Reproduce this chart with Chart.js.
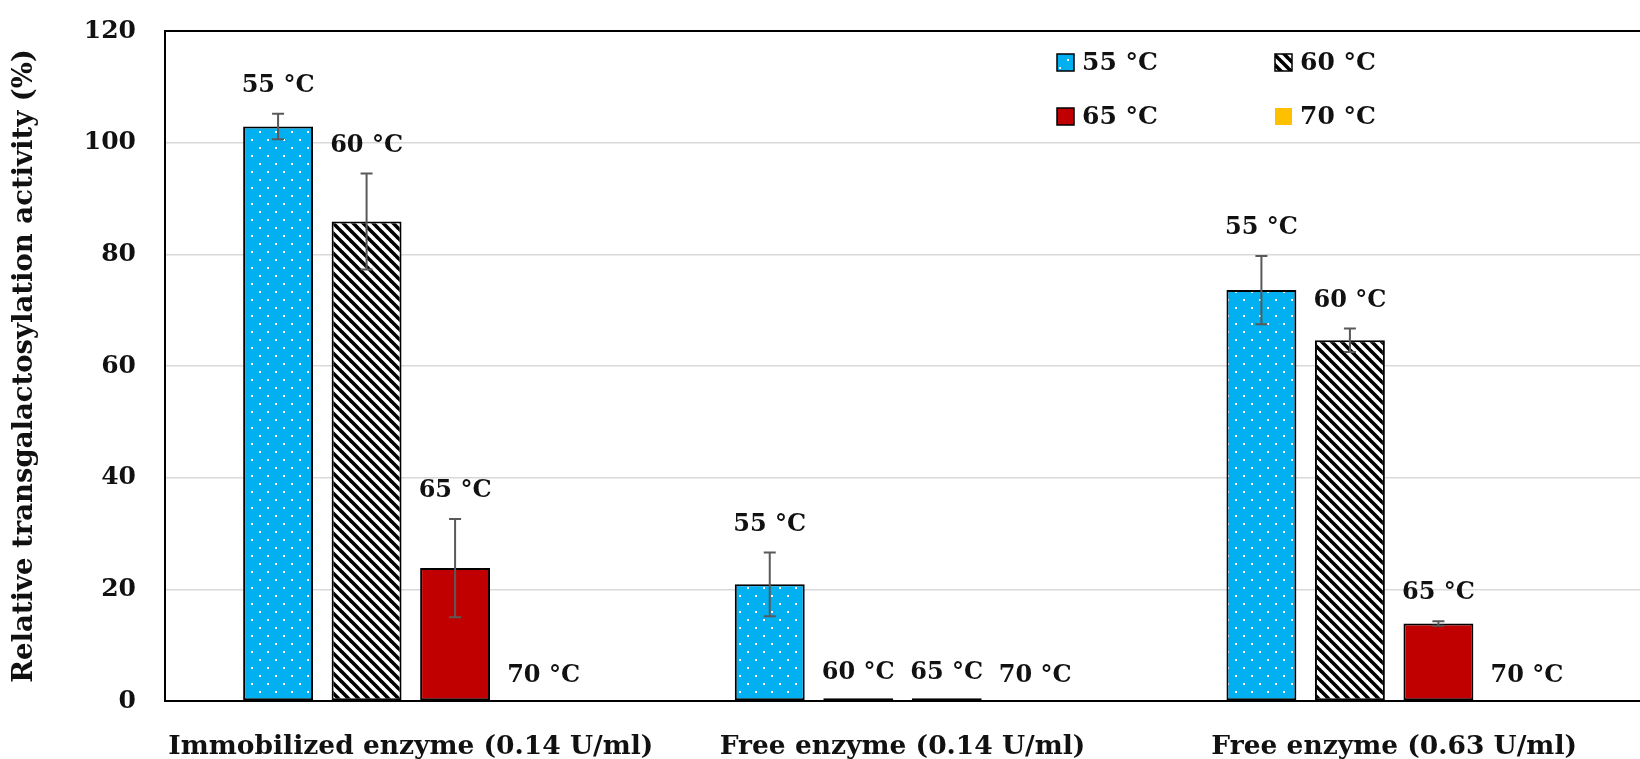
<!DOCTYPE html>
<html>
<head>
<meta charset="utf-8">
<script src="https://cdn.jsdelivr.net/npm/chart.js@4/dist/chart.umd.min.js"></script>
<style>
  body { margin: 0; background: #fff; }
  canvas { display: block; }
</style>
</head>
<body>
<canvas id="chart" width="1640" height="759"></canvas>
<script>
const categories = ["Immobilized enzyme (0.14 U/ml)", "Free enzyme (0.14 U/ml)", "Free enzyme (0.63 U/ml)"];
const seriesNames = ["55 °C", "60 °C", "65 °C", "70 °C"];

const values55 = [102.9, 20.9, 73.6];
const values60 = [85.9, 0.5, 64.6];
const values65 = [23.8, 0.5, 13.9];
const values70 = [0, 0, 0];

const errors55 = [2.3, 5.7, 6.1];
const errors60 = [8.6, 0, 2.1];
const errors65 = [8.8, 0, 0.4];
const errors70 = [0, 0, 0];

const yTicks = [0, 20, 40, 60, 80, 100, 120];

const FONT = "'DejaVu Serif'";

// fill patterns
function dotPattern() {
  const c = document.createElement("canvas");
  c.width = 16; c.height = 16;
  const g = c.getContext("2d");
  g.fillStyle = "#00b0f0";
  g.fillRect(0, 0, 16, 16);
  g.fillStyle = "#ffffff";
  g.fillRect(3, 3, 2, 2);
  g.fillRect(11, 11, 2, 2);
  return g.createPattern(c, "repeat");
}

function stripePattern() {
  const c = document.createElement("canvas");
  c.width = 10; c.height = 10;
  const g = c.getContext("2d");
  g.fillStyle = "#ffffff";
  g.fillRect(0, 0, 10, 10);
  g.strokeStyle = "#000000";
  g.lineWidth = 3.6;
  for (const k of [-10, 0, 10]) {
    g.beginPath();
    g.moveTo(k - 1, -1);
    g.lineTo(k + 11, 11);
    g.stroke();
  }
  return g.createPattern(c, "repeat");
}

const fills = [dotPattern(), stripePattern(), "#c00000", "#ffc000"];
const allValues = [values55, values60, values65, values70];
const allErrors = [errors55, errors60, errors65, errors70];

const extras = {
  id: "extras",
  afterDatasetsDraw(chart) {
    const ctx = chart.ctx;
    const y = chart.scales.y;
    const area = chart.chartArea;

    // top frame line
    ctx.save();
    ctx.strokeStyle = "#000";
    ctx.lineWidth = 2;
    ctx.beginPath();
    ctx.moveTo(area.left - 1, area.top);
    ctx.lineTo(area.right, area.top);
    ctx.stroke();

    // error bars and labels
    chart.data.datasets.forEach((ds, i) => {
      const meta = chart.getDatasetMeta(i);
      meta.data.forEach((el, j) => {
        const v = allValues[i][j];
        const e = allErrors[i][j];
        if (e > 0) {
          const yt = y.getPixelForValue(v + e);
          const yb = y.getPixelForValue(v - e);
          ctx.strokeStyle = "#595959";
          ctx.lineWidth = 2;
          ctx.beginPath();
          ctx.moveTo(el.x, yt); ctx.lineTo(el.x, yb);
          ctx.moveTo(el.x - 6, yt); ctx.lineTo(el.x + 6, yt);
          ctx.moveTo(el.x - 6, yb); ctx.lineTo(el.x + 6, yb);
          ctx.stroke();
        }
        ctx.fillStyle = "#111";
        ctx.font = "bold 24px " + FONT;
        ctx.textAlign = "center";
        ctx.textBaseline = "middle";
        const off = v + e < 1 ? 25 : 28;
        ctx.fillText(ds.label, el.x, y.getPixelForValue(v + e) - off);
      });
    });

    // legend
    const cols = [1057, 1275];
    const rows = [62, 116];
    chart.data.datasets.forEach((ds, i) => {
      const lx = cols[i % 2];
      const ly = rows[Math.floor(i / 2)];
      ctx.fillStyle = ds.backgroundColor;
      ctx.fillRect(lx, ly - 8, 17, 17);
      if (ds.borderWidth > 0) {
        ctx.strokeStyle = "#000";
        ctx.lineWidth = 1.5;
        ctx.strokeRect(lx, ly - 8, 17, 17);
      }
      ctx.fillStyle = "#111";
      ctx.font = "bold 25px " + FONT;
      ctx.textAlign = "left";
      ctx.textBaseline = "middle";
      ctx.fillText(ds.label, lx + 25, ly + 1);
    });
    ctx.restore();
  }
};

new Chart(document.getElementById("chart"), {
  type: "bar",
  data: {
    labels: categories,
    datasets: seriesNames.map((name, i) => ({
      label: name,
      data: allValues[i],
      backgroundColor: fills[i],
      borderColor: "#000000",
      borderWidth: i === 3 ? 0 : 2,
      borderSkipped: false,
      categoryPercentage: 0.72,
      barPercentage: 0.79
    }))
  },
  options: {
    responsive: false,
    animation: false,
    devicePixelRatio: 1,
    layout: { padding: { left: 0, right: 0, top: 31, bottom: 0 } },
    plugins: { legend: { display: false }, tooltip: { enabled: false } },
    scales: {
      x: {
        grid: { display: false },
        border: { display: true, color: "#000", width: 2 },
        ticks: { color: "#111", font: { family: FONT, size: 26.5, weight: "bold" }, padding: 22, maxRotation: 0 },
        afterFit: (s) => { s.height = 58; }
      },
      y: {
        min: 0,
        max: 120,
        afterBuildTicks: (s) => { s.ticks = yTicks.map((v) => ({ value: v })); },
        grid: { color: "#d9d9d9", lineWidth: 1.5, drawTicks: true, tickLength: 29, tickColor: "rgba(0,0,0,0)" },
        border: { display: true, color: "#000", width: 2 },
        ticks: { color: "#111", font: { family: FONT, size: 25, weight: "bold" }, padding: 0 },
        title: {
          display: true,
          text: "Relative transgalactosylation activity (%)",
          color: "#111",
          font: { family: FONT, size: 27.5, weight: "bold" },
          padding: { top: 8, bottom: 0 }
        },
        afterFit: (s) => { s.width = 165; }
      }
    }
  },
  plugins: [extras]
});
</script>
</body>
</html>
